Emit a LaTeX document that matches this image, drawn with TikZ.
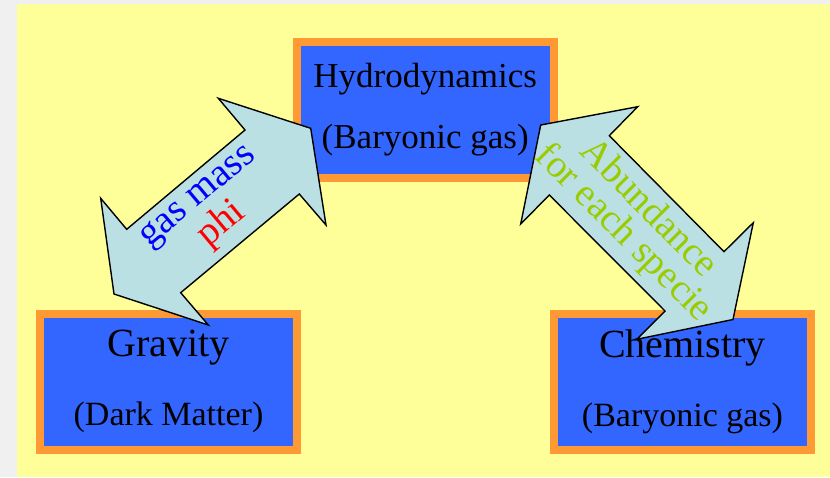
\documentclass[tikz,border=0pt]{standalone}
\usepackage{fontspec}
\setmainfont{Liberation Serif}
\usepackage{tikz}
\usetikzlibrary{positioning}

\definecolor{slidegray}{HTML}{F0F0F0}
\definecolor{slideyellow}{HTML}{FFFF99}
\definecolor{boxblue}{HTML}{3366FF}
\definecolor{boxorange}{HTML}{FF9933}
\definecolor{flowcyan}{HTML}{BBE0E3}
\definecolor{labelgreen}{HTML}{99CC00}

\begin{document}
\begin{tikzpicture}[
    x=0.5pt, y=-0.5pt,
    module/.style={
        rectangle,
        draw=boxorange,
        line width=4pt,
        fill=boxblue,
        minimum width=128.5pt,
        minimum height=68pt,
        inner sep=0pt,
        align=center,
        font=\fontsize{17.5}{30.5}\selectfont
    },
    flow/.style={
        draw=black,
        line width=0.7pt,
        fill=flowcyan,
        line join=miter
    },
    flowlabel/.style={
        align=center,
        inner sep=0pt,
        font=\fontsize{19.5}{17.5}\selectfont
    }
]

% Slide background
\useasboundingbox (0,0) rectangle (830,477);
\fill[slidegray] (0,0) rectangle (830,477);
\fill[slideyellow] (17,4) rectangle (830,477);

% Modules
\node[module] (hydro) at (425.25,109.5) {Hydrodynamics\\(Baryonic gas)};

\node[module, font=\fontsize{17}{34.5}\selectfont] (grav) at (168.5,381.75) {
    {\fontsize{20}{34.5}\selectfont Gravity}\\(Dark Matter)
};

\node[module, font=\fontsize{17}{34.5}\selectfont, right=124.5pt of grav] (chem) {
    {\fontsize{20}{34.5}\selectfont Chemistry}\\(Baryonic gas)
};

% Exchange arrows
\draw[flow] (310.7,128.3) -- (326,225) -- (299.3,194) -- (180.7,292.7) -- (208.3,325)
    -- (114,294) -- (100.7,198.3) -- (126.7,229.3) -- (245,130) -- (218.3,98.3) -- cycle;

\draw[flow] (540.7,125) -- (637.7,106.7) -- (609.3,135.7) -- (724,251.7) -- (753.3,222.7)
    -- (733,319.5) -- (636.7,339.3) -- (665,311) -- (549.3,195) -- (520.7,224) -- cycle;

% Arrow labels
\node[flowlabel, rotate=40, text=blue] (gasmass) at (211.5,212.5) {gas mass\\\textcolor{red}{phi}};
\node[flowlabel, rotate=-45, text=labelgreen] (abund) at (635.5,221.5) {Abundance\\for each specie};

\end{tikzpicture}
\end{document}
